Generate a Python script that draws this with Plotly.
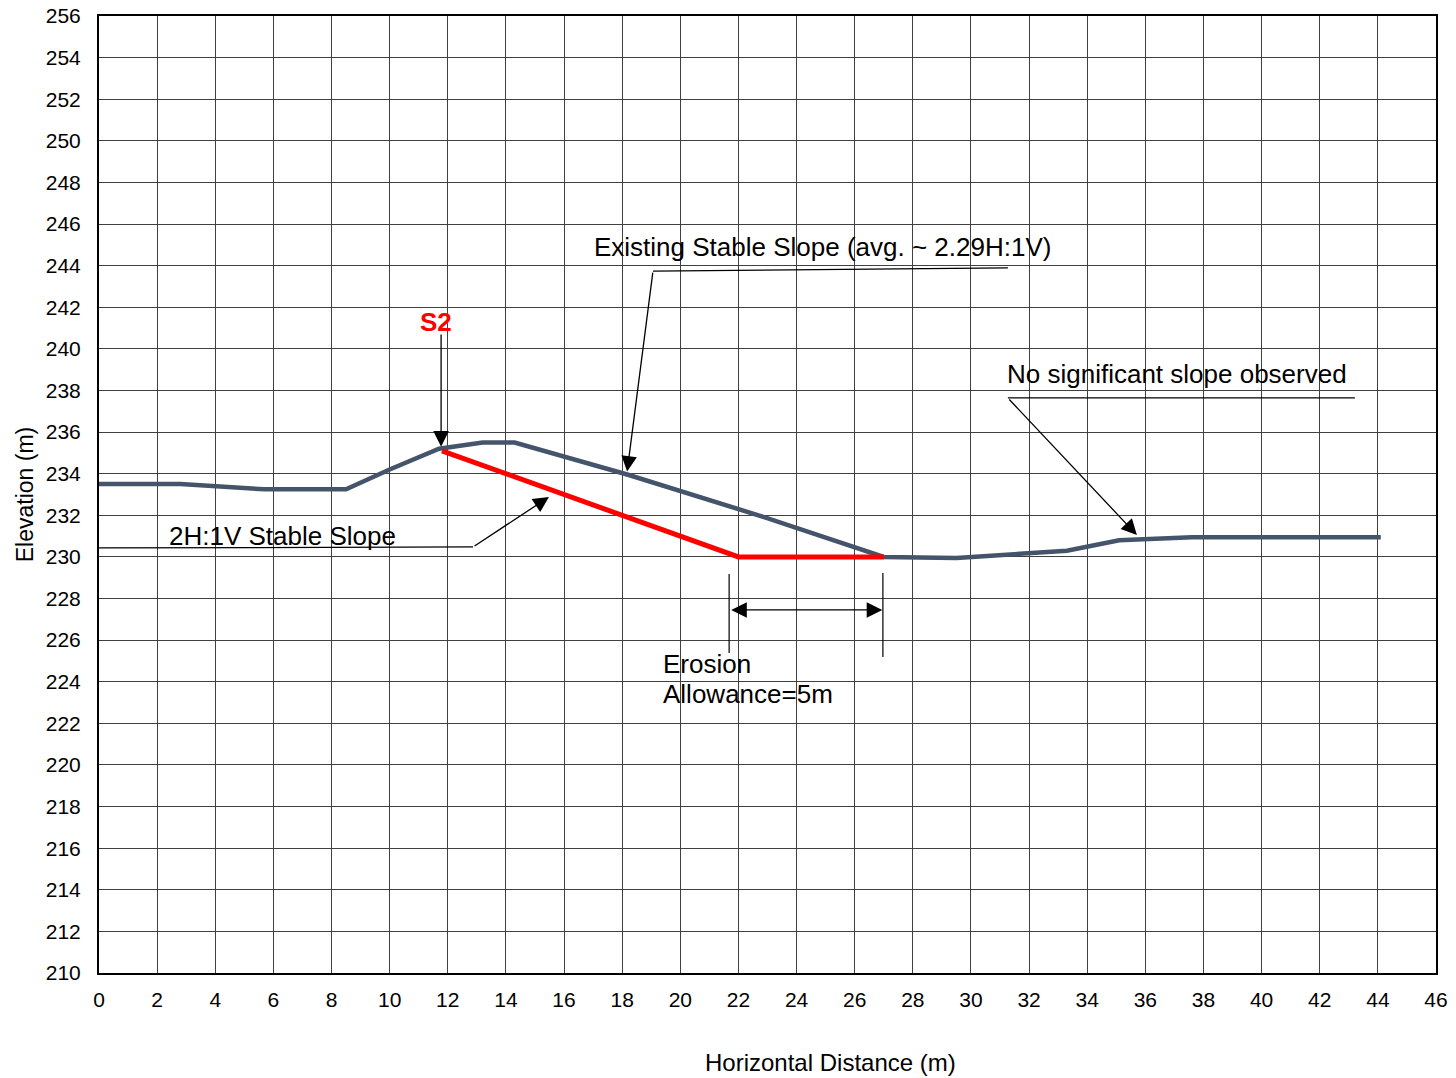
import plotly.graph_objects as go

# Surveyed ground profile (existing slope)
ground_x = [0, 2.8, 5.7, 8.5, 10.0, 11.7, 13.2, 14.3, 18.2, 22.8, 27.0, 29.5, 33.3, 35.1, 37.6, 44.1]
ground_y = [233.5, 233.5, 233.25, 233.25, 234.2, 235.2, 235.5, 235.5, 233.95, 231.95, 230.0,
            229.95, 230.3, 230.8, 230.95, 230.95]

# 2H:1V stable slope line plus erosion allowance at toe
stable_x = [11.8, 22.0, 27.0]
stable_y = [235.1, 230.0, 230.0]

x_ticks = list(range(0, 47, 2))
y_ticks = list(range(210, 257, 2))

FONT = "Liberation Sans, Arial, sans-serif"
TXT = 26

fig = go.Figure()
fig.add_trace(go.Scatter(x=ground_x, y=ground_y, mode="lines",
                         line=dict(color="#44546a", width=4.5), showlegend=False))
fig.add_trace(go.Scatter(x=stable_x, y=stable_y, mode="lines",
                         line=dict(color="#ff0000", width=5), showlegend=False))

def arrow(x, y, ax, ay):
    fig.add_annotation(x=x, y=y, ax=ax, ay=ay, xref="x", yref="y", axref="x", ayref="y",
                       text="", showarrow=True, arrowhead=2, arrowsize=2.4,
                       arrowwidth=1.3, arrowcolor="black")

def seg(x0, y0, x1, y1, w=1.2):
    fig.add_shape(type="line", x0=x0, y0=y0, x1=x1, y1=y1, xref="x", yref="y",
                  line=dict(color="black", width=w))

def label(x, y, text, size=TXT, color="black", xanchor="center"):
    fig.add_annotation(x=x, y=y, xref="x", yref="y", text=text, showarrow=False,
                       font=dict(family=FONT, size=size, color=color), xanchor=xanchor)

# S2 marker
label(11.6, 241.3, "<b>S2</b>", size=TXT, color="#ff0000")
arrow(11.77, 235.3, 11.77, 240.76)

# Existing slope callout
label(24.9, 244.9, "Existing Stable Slope (avg. ~ 2.29H:1V)")
seg(19.06, 243.74, 31.27, 243.89)
arrow(18.17, 234.1, 19.06, 243.74)

# No significant slope callout
label(37.1, 238.8, "No significant slope observed")
seg(31.27, 237.64, 43.21, 237.64)
arrow(35.71, 231.05, 31.27, 237.64)

# 2H:1V callout
label(6.33, 231.0, "2H:1V Stable Slope")
fig.add_shape(type="line", x0=-0.14, y0=230.43, x1=12.87, y1=230.48, xref="x", yref="y",
              line=dict(color="black", width=1.2), layer="above")
arrow(15.48, 232.88, 12.87, 230.48)

# Erosion allowance dimension
seg(21.68, 229.18, 21.68, 225.38)
seg(26.97, 229.23, 26.97, 225.19)
fig.add_annotation(x=26.95, y=227.45, ax=21.7, ay=227.45, xref="x", yref="y",
                   axref="x", ayref="y", text="", showarrow=True, arrowhead=2,
                   startarrowhead=2, arrowside="end+start", arrowsize=2.4,
                   startarrowsize=2.4, arrowwidth=1.3, arrowcolor="black")
label(19.33, 224.85, "Erosion", xanchor="left")
label(19.33, 223.4, "Allowance=5m", xanchor="left")

# x-axis title placed under the plot
fig.add_annotation(x=0.547, y=-0.093, xref="paper", yref="paper", yanchor="middle",
                   text="Horizontal Distance (m)", showarrow=False,
                   font=dict(family=FONT, size=24, color="black"))

axis_common = dict(showgrid=True, gridcolor="#404040", gridwidth=1, zeroline=False,
                   showline=True, linecolor="black", linewidth=2, mirror=True,
                   ticks="", tickfont=dict(family=FONT, size=21, color="black"))

fig.update_xaxes(range=[0, 46], tickvals=x_ticks, ticklabelstandoff=7, **axis_common)
fig.update_yaxes(range=[210, 256], tickvals=y_ticks, ticklabelstandoff=12,
                 title=dict(text="Elevation (m)", font=dict(family=FONT, size=23, color="black"),
                            standoff=6),
                 **axis_common)

fig.update_layout(width=1456, height=1078, plot_bgcolor="white", paper_bgcolor="white",
                  margin=dict(l=99, r=20, t=16, b=105, autoexpand=False),
                  font=dict(family=FONT), showlegend=False)

fig.write_html("out.html")
